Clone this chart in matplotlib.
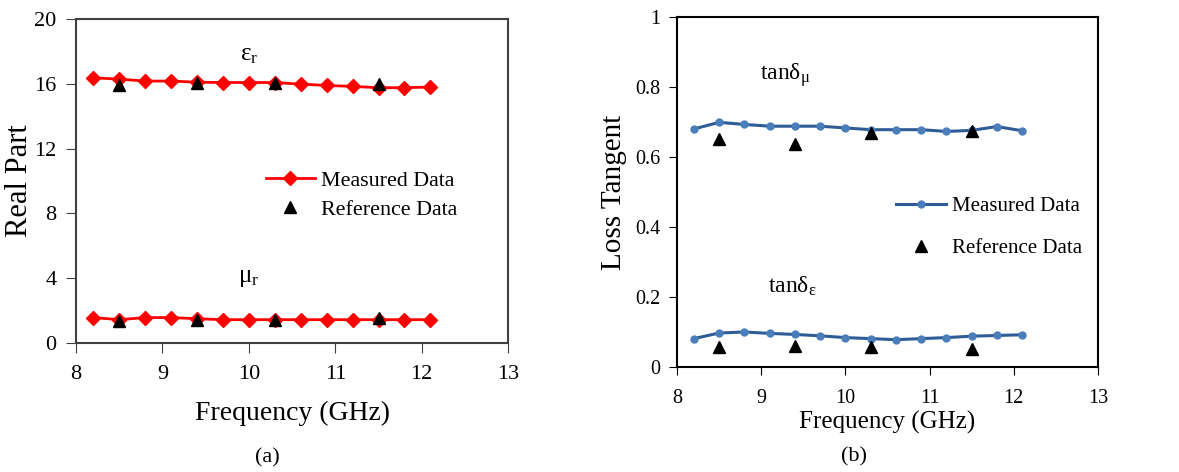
import matplotlib.pyplot as plt

plt.rcParams['font.family'] = ['Liberation Serif', 'DejaVu Serif']
plt.rcParams['mathtext.fontset'] = 'custom'
plt.rcParams['mathtext.rm'] = 'Liberation Serif'
plt.rcParams['mathtext.it'] = 'Liberation Serif'

# Measured data (GHz)
freq = [8.2, 8.5, 8.8, 9.1, 9.4, 9.7, 10.0, 10.3, 10.6, 10.9, 11.2, 11.5, 11.8, 12.1]
eps_meas = [16.37, 16.29, 16.17, 16.17, 16.1, 16.08, 16.08, 16.08, 15.98, 15.9, 15.84, 15.76, 15.76, 15.8]
mu_meas = [1.57, 1.44, 1.57, 1.57, 1.5, 1.44, 1.44, 1.44, 1.44, 1.44, 1.44, 1.44, 1.44, 1.44]
tan_mu_meas = [0.680, 0.699, 0.693, 0.688, 0.688, 0.688, 0.683, 0.678, 0.678, 0.678, 0.673, 0.676, 0.687, 0.675]
tan_eps_meas = [0.081, 0.097, 0.100, 0.096, 0.093, 0.089, 0.084, 0.081, 0.078, 0.081, 0.084, 0.088, 0.090, 0.092]

# Reference data
ref_freq = [8.5, 9.4, 10.3, 11.5]
eps_ref = [15.92, 16.02, 16.02, 15.98]
mu_ref = [1.34, 1.44, 1.44, 1.57]
tan_mu_ref = [0.652, 0.638, 0.668, 0.675]
tan_eps_ref = [0.056, 0.059, 0.056, 0.051]

fig = plt.figure(figsize=(11.79, 4.72), dpi=100)

# === Panel (a): real part ===
ax1 = fig.add_axes([0.0645, 0.2733, 0.3665, 0.6864])
ax1.plot(freq, eps_meas, color='#ff0000', marker='D', markersize=7, linewidth=2,
         label='Measured Data', zorder=2)
ax1.plot(freq, mu_meas, color='#ff0000', marker='D', markersize=7, linewidth=2, zorder=2)
ax1.plot(ref_freq, eps_ref, linestyle='none', marker='^', color='black', markersize=9,
         label='Reference Data', zorder=3)
ax1.plot(ref_freq, mu_ref, linestyle='none', marker='^', color='black', markersize=9, zorder=3)
ax1.set_xlim(8, 13)
ax1.set_ylim(0, 20)
ax1.set_xticks([8, 9, 10, 11, 12, 13])
ax1.set_yticks([0, 4, 8, 12, 16, 20])
ax1.tick_params(labelsize=16, direction='out', length=7, color='#404040')
ax1.tick_params(axis='x', pad=9)
ax1.tick_params(axis='y', pad=7)
for s in ax1.spines.values():
    s.set_color('#404040')
    s.set_linewidth(1.5)
ax1.set_xlabel('Frequency (GHz)', fontsize=20, labelpad=12)
ax1.set_ylabel('Real Part', fontsize=22, labelpad=0)
ax1.text(10.0, 17.8, r'$\mathrm{\varepsilon_r}$', fontsize=18, ha='center', va='center')
ax1.text(10.0, 4.0, r'$\mathrm{\mu_r}$', fontsize=18, ha='center', va='center')
ax1.legend(loc='upper left', bbox_to_anchor=(0.42, 0.56), frameon=False, fontsize=15.8,
           handlelength=2.2, handletextpad=0.3, labelspacing=0.4, borderaxespad=0)
fig.text(0.227, 0.03, '(a)', fontsize=16, ha='center', va='center')

# === Panel (b): loss tangent ===
ax2 = fig.add_axes([0.5742, 0.2225, 0.3571, 0.7415])
ax2.plot(freq, tan_mu_meas, color='#2f5c96', marker='o', markersize=5,
         markerfacecolor='#4a7ebb', markeredgecolor='#4a7ebb', linewidth=2.2,
         label='Measured Data', zorder=2)
ax2.plot(freq, tan_eps_meas, color='#2f5c96', marker='o', markersize=5,
         markerfacecolor='#4a7ebb', markeredgecolor='#4a7ebb', linewidth=2.2, zorder=2)
ax2.plot(ref_freq, tan_mu_ref, linestyle='none', marker='^', color='black', markersize=8,
         label='Reference Data', zorder=3)
ax2.plot(ref_freq, tan_eps_ref, linestyle='none', marker='^', color='black', markersize=8, zorder=3)
ax2.set_xlim(8, 13)
ax2.set_ylim(0, 1)
ax2.set_xticks([8, 9, 10, 11, 12, 13])
ax2.set_yticks([0, 0.2, 0.4, 0.6, 0.8, 1])
ax2.set_yticklabels(['0', '0.2', '0.4', '0.6', '0.8', '1'])
ax2.tick_params(labelsize=14.5, direction='out', length=6, color='black')
ax2.tick_params(axis='x', pad=10)
ax2.tick_params(axis='y', pad=6)
for s in ax2.spines.values():
    s.set_color('black')
    s.set_linewidth(1.5)
ax2.set_xlabel('Frequency (GHz)', fontsize=18, labelpad=2)
ax2.set_ylabel('Loss Tangent', fontsize=21, labelpad=6)
ax2.text(9.28, 0.834, r'$\mathrm{tan\delta_\mu}$', fontsize=17, ha='center', va='center')
ax2.text(9.37, 0.229, r'$\mathrm{tan\delta_\varepsilon}$', fontsize=17, ha='center', va='center')
ax2.legend(loc='upper left', bbox_to_anchor=(0.50, 0.51), frameon=False, fontsize=15,
           handlelength=2.4, handletextpad=0.3, labelspacing=1.05, borderaxespad=0)
fig.text(0.724, 0.032, '(b)', fontsize=16, ha='center', va='center')

plt.savefig('out.png', dpi=100)
plt.close()
